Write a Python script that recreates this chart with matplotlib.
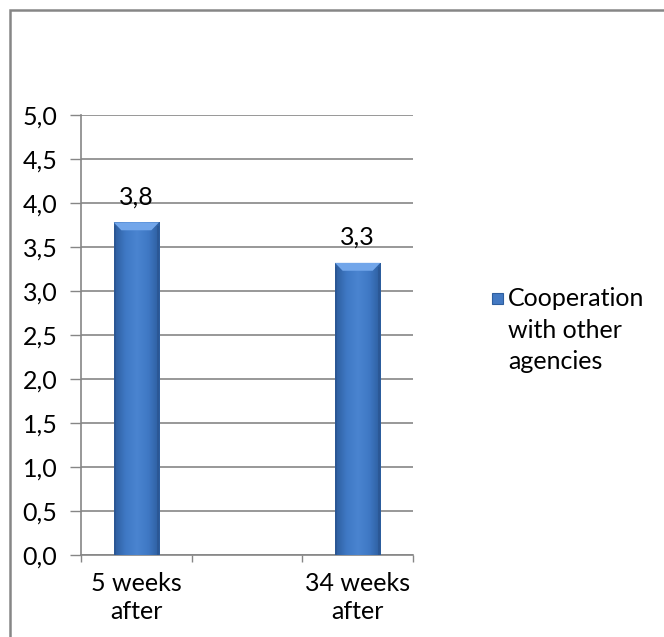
import matplotlib
matplotlib.use("Agg")
import matplotlib.pyplot as plt
import numpy as np
from matplotlib.patches import Rectangle, Polygon
from matplotlib.colors import LinearSegmentedColormap

categories = ["5 weeks\nafter", "", "34 weeks\nafter"]
values = [3.78, np.nan, 3.32]
series_name = "Cooperation\nwith other\nagencies"
yticks = [0.0, 0.5, 1.0, 1.5, 2.0, 2.5, 3.0, 3.5, 4.0, 4.5, 5.0]

plt.rcParams['font.family'] = ['Lato', 'DejaVu Sans']
FS = 18
GRID = "#868686"
TXT = "#000000"

fig = plt.figure(figsize=(6.64, 6.37), dpi=100)
ax = fig.add_axes([81/664, 1-555/637, (413-81)/664, (555-115)/637])

x = np.arange(len(categories))
width = 0.41
bars = ax.bar(x, np.nan_to_num(values), width=width, color="none", edgecolor="none", zorder=3)

cmap = LinearSegmentedColormap.from_list("bar", ["#2C5C9C", "#3F78C4", "#4A84D0", "#3F78C4", "#2C5C9C"])
grad = np.linspace(0, 1, 256).reshape(1, -1)
for b, v in zip(bars, values):
    if np.isnan(v):
        continue
    x0, w, h = b.get_x(), b.get_width(), b.get_height()
    im = ax.imshow(grad, extent=[x0, x0 + w, 0, h], aspect='auto', cmap=cmap, zorder=3)
    im.set_clip_path(b)
    bw = w * 0.17
    bh = 0.09
    ax.add_patch(Polygon([[x0, h], [x0 + w, h], [x0 + w - bw, h - bh], [x0 + bw, h - bh]],
                         closed=True, facecolor="#72A6EA", edgecolor="none", zorder=4))
    ax.add_patch(Rectangle((x0, 0), w * 0.05, h - bh * 0.5, facecolor="#2A5591", edgecolor="none", zorder=4, alpha=0.7))
    ax.add_patch(Rectangle((x0 + w * 0.95, 0), w * 0.05, h - bh * 0.5, facecolor="#2A5591", edgecolor="none", zorder=4, alpha=0.7))
    ax.text(x0 + w / 2, h + 0.16, f"{v:.1f}".replace(".", ","), ha="center", va="bottom",
            fontsize=FS, color=TXT, zorder=5)

ax.set_xlim(-0.5, len(categories) - 0.5)
ax.set_ylim(0, 5)
ax.set_yticks(yticks)
ax.set_yticklabels([f"{t:.1f}".replace(".", ",") for t in yticks], fontsize=FS, color=TXT)
ax.set_xticks(x)
ax.set_xticklabels(categories, fontsize=FS, color=TXT, linespacing=1.3)
ax.set_xticks(np.arange(-0.5, len(categories)), minor=True)
ax.tick_params(axis='x', which='major', length=0, pad=12)
ax.tick_params(axis='x', which='minor', length=5, color=GRID, width=1, direction='out')
ax.tick_params(axis='y', length=8, color=GRID, width=1, pad=9)
ax.yaxis.grid(True, color=GRID, linewidth=1.2, zorder=1)
ax.set_axisbelow(True)
for s in ["top", "right"]:
    ax.spines[s].set_visible(False)
for s in ["left", "bottom"]:
    ax.spines[s].set_color(GRID)
    ax.spines[s].set_linewidth(1.2)

# legend (manual)
lx, ly = 492/664, 1 - 304/637
fig.patches.append(Rectangle((lx, ly), 11/664, 11/637, transform=fig.transFigure,
                             facecolor="#4379C2", edgecolor="#2E5E9E", linewidth=0.8))
fig.text(508/664, 1 - 287/637, series_name, fontsize=FS, color=TXT, va="top", ha="left", linespacing=1.45)

# outer border
fig.patches.append(Rectangle((10/664, -0.1), 1.2, 1 - 10/637 + 0.1, transform=fig.transFigure,
                             facecolor="none", edgecolor=GRID, linewidth=1.8))

fig.savefig("out.png", dpi=100)
